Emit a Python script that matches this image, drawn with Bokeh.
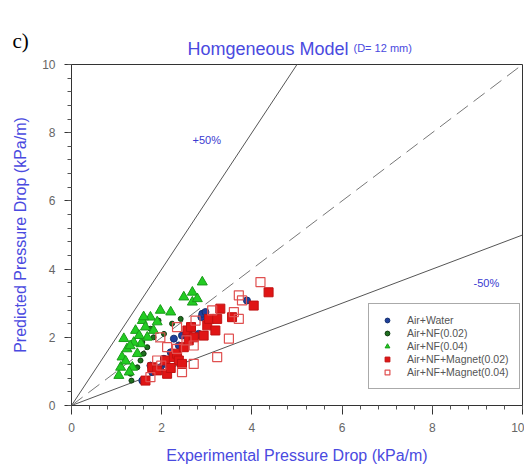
from bokeh.plotting import figure
from bokeh.models import (Label, Legend, LegendItem,
                          SingleIntervalTicker, Range1d)
from bokeh.embed import file_html
from bokeh.resources import INLINE

# ---------------- data ----------------
water_x = [1.57, 1.75, 1.79, 1.97, 2.05, 2.08, 2.20, 2.27, 2.27, 2.38, 2.45, 2.79, 2.82, 2.88, 2.90, 2.97, 3.89]
water_y = [0.73, 1.17, 0.98, 1.12, 1.37, 1.22, 1.56, 1.52, 1.96, 1.76, 2.05, 2.05, 2.10, 2.59, 2.69, 2.74, 3.08]

nf02_x = [1.31, 1.33, 1.46, 1.53, 1.57, 1.60, 1.68, 1.75, 1.82, 1.93, 2.05, 2.23, 2.42]
nf02_y = [0.93, 0.73, 1.12, 1.32, 1.86, 1.52, 1.71, 2.25, 2.00, 2.49, 2.10, 2.40, 2.54]

nf04_x = [1.05, 1.09, 1.12, 1.16, 1.23, 1.20, 1.35, 1.42, 1.46, 1.28, 1.54, 1.57, 1.64, 1.68,
          1.75, 1.82, 1.38, 1.50, 1.97, 2.20, 2.49, 2.68, 2.68, 2.79, 2.90, 1.30, 1.60, 1.90]
nf04_y = [0.88, 1.12, 1.42, 1.96, 1.66, 1.30, 1.12, 2.20, 1.52, 0.98, 1.81, 2.49, 2.30, 2.00,
          2.59, 2.20, 1.85, 2.05, 2.79, 2.74, 3.18, 3.32, 3.03, 3.13, 3.62, 1.75, 2.60, 2.45]

mag02_x = [1.64, 1.79, 1.90, 2.08, 2.12, 2.27, 2.34, 2.38, 2.45, 2.49, 2.57, 2.60, 2.71, 2.93,
           3.01, 3.05, 3.19, 3.23, 3.30, 3.56, 4.04, 4.37, 2.20, 2.65]
mag02_y = [0.73, 1.12, 1.03, 1.32, 0.93, 1.42, 1.52, 1.32, 1.22, 1.71, 2.20, 1.91, 2.00, 2.05,
           2.35, 2.54, 2.20, 2.54, 2.84, 2.59, 2.93, 3.32, 1.10, 2.30]

mag04_x = [1.75, 1.90, 1.97, 1.99, 2.12, 2.34, 2.34, 2.45, 2.55, 2.71, 2.71, 2.75, 3.12, 3.23,
           3.49, 3.60, 3.71, 3.71, 3.78, 4.19]
mag04_y = [0.83, 1.32, 2.00, 1.17, 1.71, 1.66, 2.30, 0.98, 1.91, 1.22, 1.76, 2.49, 2.79, 1.42,
           1.96, 2.74, 2.54, 3.23, 3.08, 3.62]

ref_x = [0, 10]
plus50_y = [0, 20]
equal_y = [0, 10]
minus50_y = [0, 5]

series_names = ["Air+Water", "Air+NF(0.02)", "Air+NF(0.04)",
                "Air+NF+Magnet(0.02)", "Air+NF+Magnet(0.04)"]

# ---------------- figure ----------------
BLUE = "#3a3ad0"
LBLUE = "#4a4ae0"
p = figure(width=524, height=466, output_backend="svg", toolbar_location=None,
           x_range=Range1d(0, 10), y_range=Range1d(0, 10),
           min_border_left=71, min_border_right=2, min_border_top=64, min_border_bottom=61)
p.grid.visible = False
p.outline_line_color = "#333333"
p.background_fill_color = "white"
p.border_fill_color = "white"

for ax in (p.xaxis[0], p.yaxis[0]):
    ax.ticker = SingleIntervalTicker(interval=2, num_minor_ticks=5)
    ax.axis_line_color = "#333333"
    ax.major_tick_line_color = "#333333"
    ax.minor_tick_line_color = "#555555"
    ax.major_tick_in = 0
    ax.minor_tick_in = 0
    ax.major_label_text_font = "Liberation Sans"
    ax.major_label_text_font_size = "12px"
    ax.major_label_text_color = "#666666"
    ax.axis_label_text_font = "Liberation Sans"
    ax.axis_label_text_font_size = "16px"
    ax.axis_label_text_font_style = "normal"
    ax.axis_label_text_color = LBLUE

p.xaxis.axis_label = "Experimental Pressure Drop (kPa/m)"
p.yaxis.axis_label = "Predicted Pressure Drop (kPa/m)"
p.xaxis.major_tick_out = 9
p.xaxis.minor_tick_out = 4
p.xaxis.major_label_standoff = 8
p.xaxis.axis_label_standoff = 12
p.yaxis.major_tick_out = 7
p.yaxis.minor_tick_out = 4
p.yaxis.major_label_standoff = 9
p.yaxis.axis_label_standoff = 10

# reference lines
p.line(ref_x, plus50_y, line_color="#555555", line_width=1)
p.line(ref_x, minus50_y, line_color="#555555", line_width=1)
p.line(ref_x, equal_y, line_color="#777777", line_width=1, line_dash="14 7")

# data
r_w = p.scatter(water_x, water_y, marker="circle", size=7, fill_color="#1f3f9a",
                line_color="#14306f")
r_n2 = p.scatter(nf02_x, nf02_y, marker="circle", size=5, fill_color="#1f6f1f",
                 line_color="#0d3a0d")
r_n4 = p.scatter(nf04_x, nf04_y, marker="triangle", size=10, fill_color="#22cc22",
                 line_color="#1a9a1a")
r_m2 = p.scatter(mag02_x, mag02_y, marker="square", size=9, fill_color="#e01515",
                 line_color="#c01010")
r_m4 = p.scatter(mag04_x, mag04_y, marker="square", size=9, fill_color="white",
                 fill_alpha=0.0, line_color="#e05050", line_width=1.2)

legend = Legend(items=[LegendItem(label=n, renderers=[r]) for n, r in
                       zip(series_names, [r_w, r_n2, r_n4, r_m2, r_m4])],
                location=(297, 16), label_text_font="Liberation Sans",
                label_text_font_size="10.5px", label_text_color="#555555",
                label_height=12, glyph_height=12, glyph_width=16, spacing=1,
                padding=10, margin=0, border_line_color="#555555",
                border_line_width=1.5, label_standoff=12, background_fill_alpha=1)
p.add_layout(legend, "center")

p.add_layout(Label(x=3.0, y=7.8, text="+50%", text_font="Liberation Sans",
                   text_font_size="11px", text_color=BLUE, text_align="center",
                   text_baseline="middle"))
p.add_layout(Label(x=9.2, y=3.6, text="-50%", text_font="Liberation Sans",
                   text_font_size="11px", text_color=BLUE, text_align="center",
                   text_baseline="middle"))

# titles: labels in the "above" panel (screen units)
p.add_layout(Label(x=277, y=16, x_units="screen", y_units="screen",
                   text="Homgeneous Model", text_font="Liberation Sans",
                   text_font_size="18px", text_color=LBLUE, text_align="right",
                   text_baseline="middle"), "above")
p.add_layout(Label(x=282, y=-3, x_units="screen", y_units="screen",
                   text="(D= 12 mm)", text_font="Liberation Sans",
                   text_font_size="11px", text_color=LBLUE, text_align="left",
                   text_baseline="middle"), "above")
p.add_layout(Label(x=-59, y=-8, x_units="screen", y_units="screen",
                   text="c)", text_font="Liberation Serif",
                   text_font_size="21px", text_color="black", text_align="left",
                   text_baseline="middle"), "above")

open("out.html", "w").write(file_html(p, INLINE))
